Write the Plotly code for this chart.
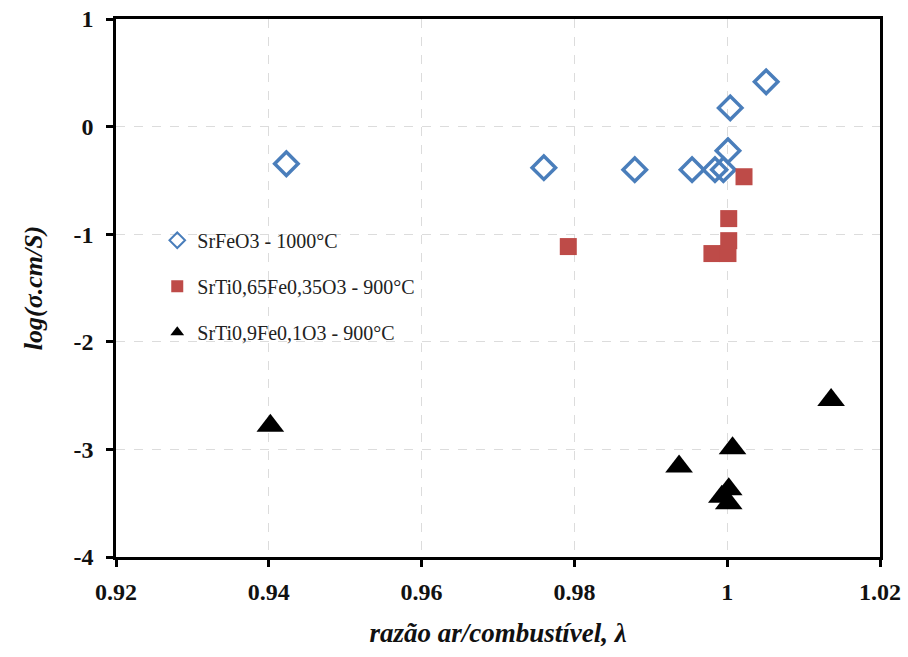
import plotly.graph_objects as go

# SrFeO3 - 1000°C
x_fe = [0.9423, 0.9760, 0.9879, 0.9954, 0.9984, 0.9995, 1.0001, 1.0004, 1.0051]
y_fe = [-0.345, -0.382, -0.40, -0.40, -0.40, -0.40, -0.224, 0.174, 0.416]

# SrTi0,65Fe0,35O3 - 900°C
x_t65 = [0.9792, 0.9980, 1.0001, 1.0002, 1.0002, 1.0022]
y_t65 = [-1.115, -1.18, -1.18, -1.06, -0.855, -0.466]

# SrTi0,9Fe0,1O3 - 900°C
x_t9 = [0.9402, 0.9937, 0.9993, 1.0002, 1.0002, 1.0007, 1.0136]
y_t9 = [-2.78, -3.16, -3.44, -3.37, -3.50, -2.99, -2.54]

names = ["SrFeO3 - 1000°C", "SrTi0,65Fe0,35O3 - 900°C", "SrTi0,9Fe0,1O3 - 900°C"]
x_ticks = [0.92, 0.94, 0.96, 0.98, 1.0, 1.02]
x_ticklabels = ["0.92", "0.94", "0.96", "0.98", "1", "1.02"]
y_ticks = [1, 0, -1, -2, -3, -4]
y_ticklabels = ["1", "0", "-1", "-2", "-3", "-4"]

serif = "Liberation Serif"

fig = go.Figure()
fig.add_trace(go.Scatter(
    x=x_fe, y=y_fe, mode="markers", name=names[0], legendgroup="a",
    marker=dict(symbol="diamond-open", size=18, color="#4A7EBB",
                line=dict(width=3.5, color="#4A7EBB"))))
fig.add_trace(go.Scatter(
    x=x_t65, y=y_t65, mode="markers", name=names[1], legendgroup="b",
    marker=dict(symbol="square", size=17, color="#BE4B48")))
fig.add_trace(go.Scatter(
    x=x_t9, y=y_t9, mode="markers", name=names[2], legendgroup="c",
    marker=dict(symbol="triangle-up", size=24, color="#000000")))

axis_common = dict(
    showline=True, linecolor="black", linewidth=2.5, mirror=True,
    ticks="outside", ticklen=7, tickwidth=2.5, tickcolor="black",
    showgrid=True, gridcolor="#DCDCDC", griddash="dash", gridwidth=1.2,
    zeroline=False, automargin=False,
    tickfont=dict(family=serif, size=24, color="#111111"),
)

fig.update_xaxes(range=[0.92, 1.02], tickvals=x_ticks,
                 ticktext=["<b>%s</b>" % t for t in x_ticklabels],
                 ticklabelstandoff=4,
                 title=dict(text="<b><i>razão ar/combustível, λ</i></b>",
                            font=dict(family=serif, size=27, color="#111111"),
                            standoff=20),
                 **axis_common)
fig.update_yaxes(range=[-4, 1], tickvals=y_ticks,
                 ticktext=["<b>%s</b>" % t for t in y_ticklabels],
                 ticklabelstandoff=8,
                 title=dict(text="<b><i>log(σ.cm/S)</i></b>",
                            font=dict(family=serif, size=26, color="#111111"),
                            standoff=24),
                 **axis_common)

fig.update_layout(
    width=908, height=657,
    margin=dict(l=116, r=28, t=19, b=100),
    plot_bgcolor="white", paper_bgcolor="white",
    showlegend=True,
    font=dict(family=serif),
    legend=dict(x=0.054, y=0.625, xanchor="left", yanchor="top",
                bgcolor="rgba(0,0,0,0)", tracegroupgap=17,
                traceorder="grouped", itemsizing="constant",
                font=dict(family=serif, size=20, color="#222222"),
                itemwidth=30),
)

fig.write_html("out.html")
